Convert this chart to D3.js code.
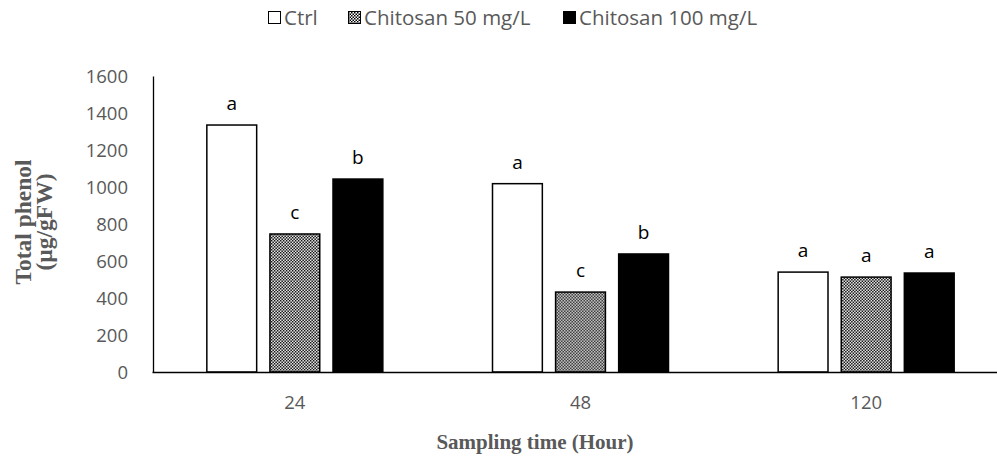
<!DOCTYPE html>
<html>
<head>
<meta charset="utf-8">
<script src="https://cdn.jsdelivr.net/npm/d3@7"></script>
<style>
    body { margin: 0; background: #fff; }
    svg { display: block; }
    .tick text { fill: #595959; font-family: "Open Sans", "Noto Sans", sans-serif; font-size: 18.5px; }
    .axisTitle { fill: #595959; font-family: "Liberation Serif", "DejaVu Serif", serif; font-weight: bold; font-size: 21px; }
    .legendText { fill: #595959; font-family: "Open Sans", "Noto Sans", sans-serif; font-size: 20.5px; }
    .letter { fill: #000; font-family: "Open Sans", "Noto Sans", sans-serif; font-size: 19px; }
</style>
</head>
<body>
<script>
(function() {

    // data
    var hours = ["24", "48", "120"];
    var seriesNames = ["Ctrl", "Chitosan 50 mg/L", "Chitosan 100 mg/L"];
    var ctrlValues = [1335, 1018, 540];
    var chito50Values = [746, 432, 513];
    var chito100Values = [1043, 638, 535];
    var ctrlLetters = ["a", "a", "a"];
    var chito50Letters = ["c", "c", "a"];
    var chito100Letters = ["b", "b", "a"];
    var yTicks = [0, 200, 400, 600, 800, 1000, 1200, 1400, 1600];

    var width = 997,
        height = 459;

    var svg = d3.select("body")
        .append("svg")
        .attr("width", width)
        .attr("height", height);

    // checker pattern for the 50 mg/L bars
    var defs = svg.append("defs");
    var pat = defs.append("pattern")
        .attr("id", "checker")
        .attr("patternUnits", "userSpaceOnUse")
        .attr("width", 3)
        .attr("height", 3);
    pat.append("rect").attr("width", 3).attr("height", 3).attr("fill", "#fff");
    pat.append("rect").attr("width", 1.5).attr("height", 1.5).attr("fill", "#000");
    pat.append("rect").attr("x", 1.5).attr("y", 1.5).attr("width", 1.5).attr("height", 1.5).attr("fill", "#000");

    var fills = ["#fff", "url(#checker)", "#000"];
    var seriesValues = [ctrlValues, chito50Values, chito100Values];
    var seriesLetters = [ctrlLetters, chito50Letters, chito100Letters];

    // scales
    var x0 = d3.scaleBand()
        .domain(hours)
        .range([152, 1009]);

    var x1 = d3.scaleBand()
        .domain(seriesNames)
        .range([-88, 88])
        .paddingInner(0.21);

    var y = d3.scaleLinear()
        .domain([0, 1600])
        .range([372, 76]);

    // y axis
    var yAxis = d3.axisLeft(y)
        .tickValues(yTicks)
        .tickFormat(d3.format("d"))
        .tickSize(0)
        .tickPadding(25);

    var yg = svg.append("g")
        .attr("transform", "translate(153,0)")
        .call(yAxis);
    yg.select(".domain").attr("stroke", "#000").attr("stroke-width", 1.3);
    yg.selectAll(".tick text").attr("dy", "0.35em");

    // bars
    var rows = [];
    hours.forEach(function(h, i) {
        seriesNames.forEach(function(s, j) {
            rows.push({hour: h, series: s, idx: j, value: seriesValues[j][i], letter: seriesLetters[j][i]});
        });
    });

    var groups = svg.selectAll(".bars")
        .data(rows)
        .enter()
        .append("g")
        .attr("class", "bars")
        .attr("transform", function(d) {
            return "translate(" + (x0(d.hour) + x0.bandwidth() / 2) + ",0)";
        });

    groups.append("rect")
        .attr("x", function(d) { return x1(d.series); })
        .attr("width", x1.bandwidth())
        .attr("y", function(d) { return y(d.value); })
        .attr("height", function(d) { return y(0) - y(d.value); })
        .attr("fill", function(d) { return fills[d.idx]; })
        .attr("stroke", "#000")
        .attr("stroke-width", 1.5);

    groups.append("text")
        .attr("class", "letter")
        .attr("text-anchor", "middle")
        .attr("x", function(d) { return x1(d.series) + x1.bandwidth() / 2; })
        .attr("y", function(d) { return y(d.value) - 15; })
        .text(function(d) { return d.letter; });

    // x axis
    var xAxis = d3.axisBottom(x0)
        .tickSize(0)
        .tickPadding(24);

    var xg = svg.append("g")
        .attr("transform", "translate(0,372)")
        .call(xAxis);
    xg.select(".domain").attr("stroke", "#000").attr("stroke-width", 1.3);

    // axis titles
    var yTitle = svg.append("text")
        .attr("class", "axisTitle")
        .attr("text-anchor", "middle")
        .style("font-size", "23.5px")
        .attr("transform", "translate(31,222) rotate(-90)");
    yTitle.append("tspan").attr("x", 0).attr("y", 0).text("Total phenol");
    yTitle.append("tspan").attr("x", 0).attr("y", 21).text("(µg/gFW)");

    svg.append("text")
        .attr("class", "axisTitle")
        .attr("text-anchor", "middle")
        .attr("x", 535)
        .attr("y", 449)
        .text("Sampling time (Hour)");

    // legend
    var legendX = [268, 348, 563];
    var legend = svg.selectAll(".legend")
        .data(seriesNames)
        .enter()
        .append("g")
        .attr("class", "legend")
        .attr("transform", function(d, i) { return "translate(" + legendX[i] + ",0)"; });

    legend.append("rect")
        .attr("x", 0.5)
        .attr("y", 11.5)
        .attr("width", 12)
        .attr("height", 12)
        .attr("fill", function(d, i) { return fills[i]; })
        .attr("stroke", "#000")
        .attr("stroke-width", 1);

    legend.append("text")
        .attr("class", "legendText")
        .attr("x", 16)
        .attr("y", 24.5)
        .text(function(d) { return d; });
})();
</script>
</body>
</html>
